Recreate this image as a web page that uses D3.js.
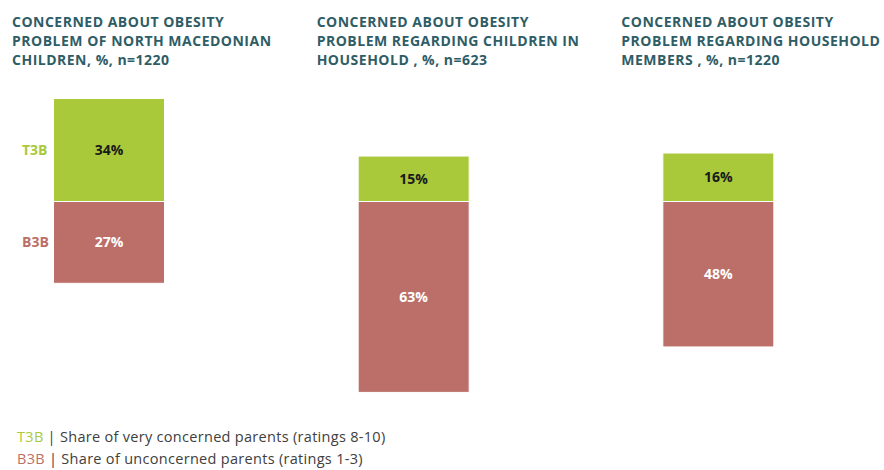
<!DOCTYPE html>
<html>
<head>
<meta charset="utf-8">
<script src="https://cdn.jsdelivr.net/npm/d3@7"></script>
<style>
	body { margin: 0; background: #fff; }
	svg { display: block; font-family: "Open Sans", Lato, sans-serif; }
</style>
</head>
<body>
<svg></svg>
<script>
/* 数据 */
const panelKeys = ['mk', 'hhChildren', 'hhMembers'];
const panelTitles = [
	['CONCERNED ABOUT OBESITY', 'PROBLEM OF NORTH MACEDONIAN', 'CHILDREN, %, n=1220'],
	['CONCERNED ABOUT OBESITY', 'PROBLEM REGARDING CHILDREN IN', 'HOUSEHOLD , %, n=623'],
	['CONCERNED ABOUT OBESITY', 'PROBLEM REGARDING HOUSEHOLD', 'MEMBERS , %, n=1220']
];
const t3bValues = [34, 15, 16];
const b3bValues = [27, 63, 48];
const seriesNames = ['T3B', 'B3B'];
const legendTexts = ['Share of very concerned parents (ratings 8-10)', 'Share of unconcerned parents (ratings 1-3)'];

/* 常量 */
const width = 884, height = 470;
const green = '#a9c93b', red = '#bc6f69', titleColor = '#2f5d66';

const svg = d3.select('svg').attr('width', width).attr('height', height);

const x = d3.scaleBand().domain(panelKeys).range([0, 914]);
const barW = 111;
const barOffset = 109 - x.bandwidth() / 2; // 柱中心相对面板中心的偏移
const y = d3.scaleLinear().domain([0, 100]).range([201.5, 201.5 - 303]);

/* 标题 */
const titles = svg.append('g').selectAll('text')
	.data(panelKeys)
	.join('text')
	.attr('x', (d) => x(d) + 12)
	.attr('y', 27)
	.attr('fill', titleColor)
	.style('font-size', '14px')
	.style('letter-spacing', '0.5px')
	.style('font-weight', 'bold');
titles.selectAll('tspan')
	.data((d, i) => panelTitles[i])
	.join('tspan')
	.attr('x', function () { return this.parentNode.getAttribute('x'); })
	.attr('dy', (d, i) => i === 0 ? 0 : 19)
	.text((d) => d);

/* 柱 */
const bars = svg.append('g').selectAll('g')
	.data(panelKeys)
	.join('g')
	.attr('transform', (d) => `translate(${x(d) + x.bandwidth() / 2 + barOffset - barW / 2},0)`);

bars.append('rect')
	.attr('width', barW)
	.attr('y', (d, i) => y(t3bValues[i]))
	.attr('height', (d, i) => y(0) - y(t3bValues[i]))
	.attr('fill', green)
	.attr('stroke', '#fff')
	.attr('stroke-width', 1);
bars.append('rect')
	.attr('width', barW)
	.attr('y', y(0))
	.attr('height', (d, i) => y(-b3bValues[i]) - y(0))
	.attr('fill', red)
	.attr('stroke', '#fff')
	.attr('stroke-width', 1);

bars.append('text')
	.attr('x', barW / 2)
	.attr('y', (d, i) => (y(t3bValues[i]) + y(0)) / 2)
	.attr('dy', '0.35em')
	.attr('text-anchor', 'middle')
	.attr('fill', '#1a1a1a')
	.style('font-size', '14px')
	.style('font-weight', 'bold')
	.text((d, i) => t3bValues[i] + '%');
bars.append('text')
	.attr('x', barW / 2)
	.attr('y', (d, i) => (y(-b3bValues[i]) + y(0)) / 2)
	.attr('dy', '0.35em')
	.attr('text-anchor', 'middle')
	.attr('fill', '#fff')
	.style('font-size', '14px')
	.style('font-weight', 'bold')
	.text((d, i) => b3bValues[i] + '%');

/* 左侧系列标签 */
const side = svg.append('g').style('font-size', '14px').style('font-weight', 'bold');
side.append('text')
	.attr('x', 22)
	.attr('y', (y(t3bValues[0]) + y(0)) / 2)
	.attr('dy', '0.35em')
	.attr('fill', green)
	.text(seriesNames[0]);
side.append('text')
	.attr('x', 22)
	.attr('y', (y(-b3bValues[0]) + y(0)) / 2)
	.attr('dy', '0.35em')
	.attr('fill', red)
	.text(seriesNames[1]);

/* 图例 */
const legend = svg.append('g').selectAll('text')
	.data(seriesNames)
	.join('text')
	.attr('x', 17)
	.attr('y', (d, i) => 442 + i * 22)
	.style('font-size', '14.5px')
	.style('letter-spacing', '0.3px')
	.attr('fill', '#404040');
legend.append('tspan')
	.attr('fill', (d, i) => i === 0 ? green : red)
	.text((d) => d);
legend.append('tspan')
	.text((d, i) => '  |  ' + legendTexts[i]);
</script>
</body>
</html>
